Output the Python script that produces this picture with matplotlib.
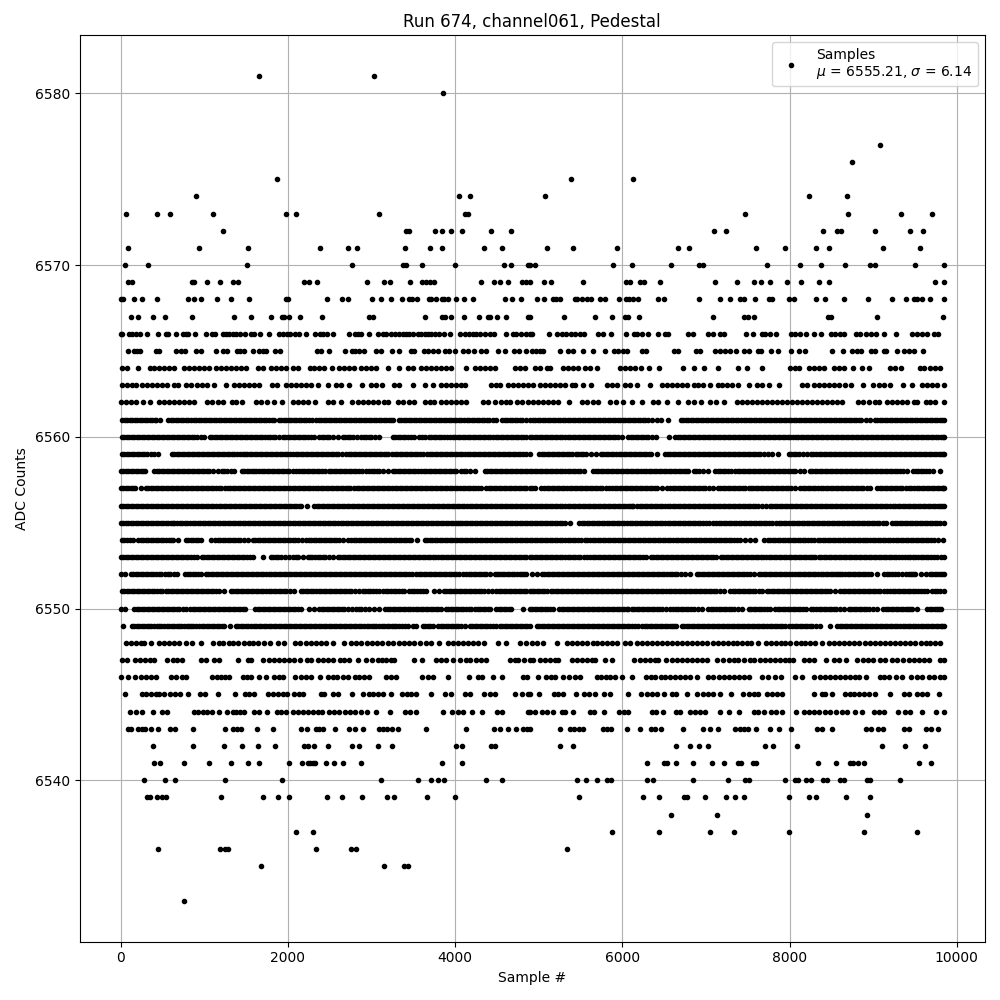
import matplotlib
matplotlib.use("Agg")
import matplotlib.pyplot as plt
import numpy as np

x_6533 = [763]
x_6535 = [1673, 3147, 3394, 3434]
x_6536 = [451, 1182, 1246, 1278, 2332, 2751, 2815, 5341]
x_6537 = [2092, 2296, 5880, 6443, 7054, 7330, 7989, 8887, 9522]
x_6538 = [6587, 7126, 8923]
x_6539 = [319, 351, 439, 495, 547, 1194, 1697, 1877, 2009, 2464, 2643, 2883, 3182, 3266, 3662, 3997, 5485, 6252, 6443, 6739, 6779, 6994, 7234, 7342, 7449, 7989, 8228, 8312, 8671, 8959]
x_6540 = [284, 535, 655, 1242, 1925, 3111, 3554, 3710, 3793, 3865, 4368, 4560, 5461, 5569, 5701, 5820, 5860, 6299, 6371, 6839, 7258, 7461, 7509, 7941, 8068, 8096, 8200, 8256, 8396, 8448, 8607, 8655, 8927, 8967, 9318]
x_6541 = [403, 475, 763, 1062, 1314, 1517, 1649, 2009, 2164, 2236, 2264, 2304, 2328, 2452, 2548, 2655, 2871, 3841, 4081, 6299, 6499, 6539, 6647, 6839, 7078, 7210, 7378, 7417, 7561, 7601, 8336, 8552, 8719, 8759, 8815, 8887, 9546, 9690]
x_6542 = [391, 870, 1230, 1445, 1637, 1841, 2196, 2236, 2308, 2476, 2763, 2847, 3075, 3242, 4009, 4081, 4424, 4472, 5257, 5413, 6647, 6815, 6922, 7030, 7701, 7797, 8084, 9103, 9378, 9622]
x_6543 = [92, 120, 212, 252, 292, 367, 451, 587, 651, 870, 1242, 1346, 1386, 1434, 1625, 1817, 2152, 2224, 2336, 2376, 2424, 2560, 2727, 2799, 2895, 3095, 3135, 3182, 3242, 3314, 3650, 4129, 4464, 4536, 4632, 4728, 4812, 4860, 4894, 5257, 5373, 5421, 5477, 5533, 5772, 5820, 5860, 6060, 6216, 6347, 6395, 6459, 6731, 6970, 7054, 7138, 7350, 7402, 7449, 7497, 7593, 7765, 7869, 8012, 8324, 8388, 8504, 8919, 8975, 9055, 9119, 9366, 9430, 9630, 9686, 9773]
x_6544 = [116, 180, 252, 391, 499, 559, 882, 930, 986, 1038, 1098, 1170, 1266, 1338, 1378, 1426, 1477, 1597, 1657, 1745, 1865, 1917, 1977, 2064, 2116, 2184, 2236, 2296, 2356, 2408, 2496, 2556, 2615, 2679, 2739, 2799, 2879, 2943, 3051, 3226, 3406, 3462, 3534, 3853, 3961, 4033, 4093, 4197, 4320, 4500, 4564, 4871, 4894, 4954, 5034, 5094, 5174, 5273, 5313, 5413, 5613, 5661, 5784, 5964, 6020, 6064, 6351, 6403, 6483, 6643, 6691, 6811, 6870, 6930, 6990, 7162, 7278, 7390, 7569, 7625, 7689, 7777, 7841, 7913, 8072, 8168, 8228, 8288, 8348, 8428, 8488, 8560, 8627, 8687, 8787, 8867, 9007, 9067, 9127, 9294, 9386, 9438, 9582, 9749, 9845]
x_6545 = [56, 252, 300, 359, 419, 459, 523, 587, 651, 715, 811, 950, 1014, 1162, 1362, 1485, 1537, 1597, 1757, 1817, 1877, 1937, 1985, 2076, 2136, 2184, 2396, 2436, 2536, 2595, 2771, 2903, 2967, 3015, 3075, 3143, 3234, 3366, 3422, 3474, 3534, 3714, 3881, 3953, 4113, 4181, 4341, 4412, 4472, 4716, 4804, 4871, 4894, 5006, 5181, 5233, 5293, 5445, 5541, 5605, 5673, 5780, 5852, 6072, 6220, 6291, 6351, 6411, 6499, 6591, 6643, 6771, 6898, 6962, 7030, 7082, 7170, 7298, 7441, 7509, 7577, 7617, 7729, 7789, 7849, 7909, 8288, 8388, 8428, 8508, 8667, 8719, 8775, 8827, 8887, 8947, 9027, 9206, 9366, 9426, 9526, 9586, 9646, 9785]
x_6546 = [0, 92, 176, 240, 300, 359, 427, 599, 659, 739, 779, 1098, 1146, 1198, 1246, 1294, 1461, 1513, 1561, 1657, 1737, 1837, 1889, 1945, 2088, 2156, 2216, 2276, 2384, 2476, 2536, 2583, 2655, 2715, 2799, 2855, 2915, 2967, 3175, 3234, 3294, 3602, 3674, 3734, 3913, 4165, 4273, 4324, 4456, 4564, 4812, 4860, 4994, 5086, 5142, 5193, 5293, 5365, 5433, 5493, 5693, 5740, 5804, 5852, 5912, 5992, 6112, 6283, 6339, 6391, 6459, 6511, 6571, 6631, 6691, 6751, 6811, 6890, 7022, 7082, 7150, 7210, 7270, 7330, 7390, 7449, 7509, 7669, 7737, 7829, 7897, 8064, 8148, 8296, 8360, 8428, 8488, 8548, 8608, 8667, 8727, 8787, 8827, 8915, 9087, 9135, 9190, 9278, 9346, 9458, 9518, 9586, 9665, 9733, 9797, 9845]
x_6547 = [20, 80, 172, 228, 292, 347, 399, 559, 627, 679, 731, 958, 1018, 1118, 1170, 1398, 1517, 1561, 1697, 1777, 1837, 1897, 1957, 2017, 2076, 2144, 2224, 2276, 2356, 2416, 2476, 2544, 2623, 2675, 2727, 2843, 2935, 3003, 3075, 3127, 3175, 3234, 3274, 3514, 3606, 3773, 3833, 3893, 3973, 4053, 4125, 4181, 4245, 4312, 4364, 4652, 4712, 4752, 4820, 4894, 4934, 5014, 5074, 5134, 5193, 5233, 5393, 5453, 5513, 5573, 5633, 5673, 5792, 5872, 6140, 6212, 6272, 6331, 6391, 6431, 6523, 6591, 6651, 6711, 6771, 6831, 6890, 6950, 7010, 7130, 7202, 7270, 7330, 7378, 7457, 7521, 7569, 7641, 7709, 7769, 7829, 7889, 7949, 7989, 8040, 8168, 8228, 8288, 8440, 8536, 8588, 8675, 8807, 8879, 8935, 8999, 9079, 9146, 9226, 9286, 9358, 9426, 9486, 9546, 9606, 9665, 9797, 9845]
x_6548 = [60, 120, 180, 240, 280, 359, 459, 519, 579, 639, 699, 787, 858, 958, 1106, 1170, 1226, 1290, 1346, 1409, 1477, 1537, 1577, 1645, 1717, 1785, 1885, 1949, 2088, 2148, 2216, 2276, 2336, 2396, 2456, 2536, 2671, 2755, 2815, 2875, 2943, 3007, 3067, 3123, 3194, 3254, 3326, 3394, 3454, 3514, 3574, 3654, 3714, 3805, 3913, 3973, 4033, 4093, 4153, 4213, 4273, 4341, 4512, 4612, 4780, 4852, 4914, 4974, 5054, 5213, 5341, 5393, 5453, 5513, 5581, 5645, 5693, 5752, 5812, 5872, 5940, 6032, 6092, 6172, 6232, 6291, 6351, 6411, 6471, 6531, 6591, 6651, 6711, 6771, 6831, 6890, 6950, 7010, 7082, 7138, 7202, 7262, 7322, 7370, 7429, 7489, 7537, 7625, 7721, 7777, 7841, 7897, 7949, 8000, 8080, 8136, 8188, 8248, 8308, 8388, 8476, 8528, 8588, 8647, 8707, 8767, 8827, 8907, 8967, 9027, 9087, 9146, 9206, 9266, 9326, 9386, 9446, 9506, 9566, 9626, 9685, 9745, 9797]
x_6549 = [32, 132, 190, 250, 312, 368, 430, 488, 552, 610, 668, 725, 790, 845, 898, 938, 1000, 1060, 1120, 1180, 1238, 1306, 1378, 1438, 1497, 1560, 1618, 1680, 1740, 1800, 1858, 1920, 1980, 2040, 2098, 2160, 2220, 2280, 2338, 2400, 2460, 2520, 2578, 2640, 2700, 2760, 2818, 2880, 2940, 3000, 3058, 3120, 3180, 3240, 3298, 3360, 3434, 3500, 3530, 3614, 3675, 3733, 3793, 3855, 3915, 3975, 4035, 4113, 4173, 4235, 4295, 4355, 4415, 4492, 4532, 4595, 4655, 4715, 4775, 4835, 4892, 4974, 5035, 5095, 5155, 5215, 5275, 5335, 5395, 5455, 5515, 5575, 5635, 5695, 5755, 5815, 5875, 5935, 5995, 6055, 6115, 6192, 6232, 6295, 6355, 6415, 6475, 6535, 6595, 6643, 6711, 6770, 6830, 6890, 6950, 7010, 7070, 7130, 7190, 7250, 7310, 7370, 7430, 7490, 7550, 7610, 7670, 7730, 7790, 7850, 7910, 7989, 8028, 8090, 8150, 8210, 8270, 8368, 8480, 8568, 8628, 8688, 8748, 8808, 8868, 8928, 8988, 9048, 9108, 9168, 9228, 9288, 9358, 9386, 9446, 9506, 9566, 9626, 9686, 9746, 9806, 9845]
x_6550 = [0, 48, 160, 222, 282, 340, 400, 462, 520, 580, 640, 700, 779, 831, 892, 950, 1012, 1070, 1132, 1190, 1250, 1310, 1370, 1430, 1485, 1609, 1670, 1730, 1790, 1850, 1910, 1970, 2030, 2090, 2156, 2256, 2316, 2376, 2436, 2496, 2556, 2616, 2676, 2767, 2815, 2875, 2975, 3035, 3095, 3166, 3226, 3286, 3346, 3406, 3466, 3526, 3586, 3646, 3706, 3766, 3833, 3885, 3945, 4005, 4065, 4125, 4193, 4241, 4301, 4361, 4420, 4492, 4552, 4612, 4672, 4812, 4894, 4954, 5014, 5074, 5134, 5174, 5245, 5305, 5365, 5425, 5485, 5545, 5605, 5665, 5725, 5785, 5845, 5905, 5965, 6025, 6072, 6112, 6172, 6232, 6292, 6352, 6412, 6472, 6571, 6611, 6671, 6731, 6791, 6851, 6950, 7030, 7090, 7150, 7210, 7270, 7330, 7430, 7509, 7569, 7629, 7689, 7769, 7829, 7889, 7949, 8009, 8069, 8129, 8200, 8256, 8316, 8376, 8436, 8496, 8556, 8647, 8707, 8767, 8827, 8887, 8947, 9047, 9119, 9179, 9239, 9299, 9359, 9419, 9466, 9518, 9646, 9706, 9766, 9813]
x_6551 = [12, 72, 132, 192, 252, 312, 372, 432, 499, 539, 599, 659, 719, 779, 839, 899, 959, 1019, 1079, 1139, 1238, 1318, 1378, 1438, 1498, 1558, 1618, 1678, 1738, 1798, 1858, 1918, 1978, 2076, 2156, 2216, 2276, 2336, 2396, 2456, 2516, 2576, 2636, 2696, 2756, 2847, 2895, 2955, 3015, 3095, 3143, 3203, 3263, 3323, 3394, 3454, 3514, 3574, 3654, 3753, 3805, 3861, 3921, 3981, 4041, 4101, 4161, 4221, 4281, 4341, 4444, 4492, 4552, 4612, 4672, 4732, 4792, 4852, 4892, 4914, 4974, 5034, 5094, 5142, 5202, 5262, 5322, 5382, 5442, 5502, 5562, 5622, 5682, 5742, 5802, 5862, 5922, 5982, 6042, 6102, 6162, 6222, 6282, 6342, 6402, 6462, 6522, 6582, 6642, 6702, 6762, 6822, 6882, 6942, 7002, 7062, 7122, 7210, 7290, 7350, 7410, 7470, 7530, 7590, 7669, 7729, 7789, 7849, 7909, 7969, 8029, 8089, 8149, 8209, 8269, 8329, 8389, 8449, 8548, 8607, 8667, 8727, 8787, 8847, 8907, 8967, 9027, 9087, 9166, 9206, 9266, 9326, 9386, 9446, 9506, 9566, 9646, 9705, 9765, 9845]
x_6552 = [0, 52, 120, 180, 240, 300, 360, 420, 487, 531, 591, 679, 771, 831, 891, 958, 1018, 1078, 1138, 1198, 1258, 1318, 1378, 1438, 1498, 1558, 1618, 1678, 1738, 1798, 1858, 1918, 1978, 2038, 2098, 2158, 2218, 2278, 2338, 2398, 2458, 2518, 2578, 2638, 2698, 2758, 2818, 2878, 2938, 2998, 3058, 3118, 3178, 3238, 3298, 3358, 3418, 3482, 3534, 3594, 3654, 3714, 3774, 3834, 3894, 3954, 4014, 4093, 4133, 4193, 4253, 4313, 4373, 4472, 4500, 4560, 4620, 4680, 4740, 4800, 4852, 4914, 4982, 5034, 5094, 5154, 5214, 5274, 5334, 5394, 5454, 5514, 5574, 5634, 5694, 5754, 5814, 5874, 5934, 5994, 6054, 6114, 6174, 6234, 6294, 6354, 6414, 6474, 6534, 6594, 6654, 6751, 6811, 6890, 6950, 7010, 7070, 7130, 7190, 7250, 7310, 7370, 7430, 7490, 7577, 7629, 7689, 7749, 7809, 7869, 7929, 7989, 8068, 8100, 8160, 8220, 8280, 8340, 8400, 8460, 8520, 8580, 8627, 8667, 8727, 8787, 8847, 8907, 8975, 9047, 9135, 9195, 9255, 9346, 9398, 9458, 9506, 9566, 9626, 9677, 9737, 9797, 9845]
x_6553 = [0, 60, 120, 180, 240, 300, 360, 420, 480, 540, 600, 660, 720, 780, 840, 918, 970, 1030, 1090, 1150, 1210, 1270, 1330, 1390, 1450, 1510, 1585, 1697, 1797, 1857, 1917, 2009, 2064, 2124, 2236, 2264, 2324, 2384, 2444, 2544, 2595, 2655, 2715, 2775, 2835, 2895, 2955, 3015, 3075, 3135, 3195, 3255, 3315, 3375, 3435, 3495, 3555, 3615, 3675, 3735, 3795, 3855, 3915, 3973, 4013, 4073, 4133, 4193, 4253, 4313, 4373, 4433, 4493, 4553, 4613, 4673, 4733, 4793, 4853, 4894, 4954, 5014, 5074, 5134, 5194, 5254, 5314, 5374, 5434, 5494, 5581, 5613, 5673, 5733, 5793, 5853, 5913, 5973, 6033, 6093, 6153, 6213, 6283, 6339, 6399, 6459, 6519, 6579, 6639, 6699, 6759, 6819, 6879, 6939, 6999, 7059, 7122, 7178, 7238, 7298, 7358, 7418, 7478, 7538, 7598, 7658, 7718, 7778, 7838, 7898, 7958, 8018, 8078, 8138, 8198, 8258, 8308, 8348, 8408, 8468, 8528, 8588, 8648, 8708, 8768, 8828, 8888, 8948, 9008, 9068, 9128, 9188, 9248, 9308, 9386, 9446, 9506, 9566, 9626, 9686, 9765, 9813, 9845]
x_6554 = [12, 72, 152, 212, 272, 332, 392, 452, 512, 572, 631, 687, 779, 839, 899, 959, 1078, 1130, 1190, 1250, 1310, 1370, 1430, 1517, 1577, 1637, 1697, 1757, 1817, 1877, 1937, 1997, 2057, 2117, 2216, 2248, 2308, 2368, 2428, 2488, 2548, 2608, 2715, 2755, 2815, 2875, 2935, 2995, 3055, 3115, 3175, 3235, 3295, 3355, 3415, 3474, 3542, 3634, 3694, 3754, 3814, 3874, 3934, 3994, 4054, 4114, 4174, 4234, 4294, 4354, 4414, 4474, 4534, 4594, 4654, 4714, 4774, 4834, 4892, 4954, 5014, 5074, 5134, 5194, 5254, 5314, 5374, 5434, 5501, 5553, 5613, 5673, 5733, 5793, 5853, 5913, 5973, 6033, 6093, 6153, 6213, 6273, 6333, 6393, 6453, 6513, 6571, 6611, 6671, 6731, 6791, 6851, 6911, 6971, 7031, 7091, 7151, 7211, 7271, 7331, 7410, 7469, 7529, 7589, 7689, 7737, 7797, 7857, 7917, 7977, 8037, 8097, 8157, 8217, 8296, 8336, 8396, 8456, 8516, 8576, 8636, 8696, 8756, 8816, 8876, 8927, 8967, 9027, 9087, 9147, 9207, 9267, 9327, 9387, 9447, 9507, 9567, 9627, 9687, 9773, 9833]
x_6555 = [0, 60, 120, 180, 240, 300, 360, 420, 480, 540, 600, 639, 679, 739, 799, 859, 919, 979, 1039, 1099, 1159, 1219, 1279, 1339, 1399, 1459, 1519, 1579, 1639, 1699, 1759, 1819, 1879, 1939, 1999, 2059, 2119, 2179, 2239, 2299, 2359, 2419, 2479, 2539, 2599, 2659, 2719, 2779, 2839, 2899, 2959, 3019, 3079, 3139, 3199, 3259, 3319, 3379, 3439, 3499, 3559, 3619, 3679, 3739, 3799, 3859, 3919, 3979, 4039, 4085, 4113, 4173, 4233, 4293, 4353, 4413, 4473, 4533, 4593, 4653, 4713, 4773, 4833, 4892, 4954, 5014, 5074, 5134, 5194, 5254, 5313, 5377, 5485, 5545, 5605, 5665, 5725, 5785, 5845, 5905, 5965, 6020, 6060, 6120, 6180, 6240, 6300, 6360, 6420, 6480, 6540, 6600, 6660, 6720, 6780, 6840, 6900, 6960, 7042, 7090, 7150, 7210, 7270, 7330, 7390, 7450, 7510, 7570, 7630, 7690, 7750, 7841, 7873, 7933, 7993, 8053, 8113, 8173, 8233, 8293, 8353, 8413, 8473, 8533, 8593, 8653, 8713, 8773, 8833, 8893, 8953, 9013, 9073, 9158, 9226, 9286, 9346, 9406, 9466, 9526, 9586, 9646, 9706, 9766, 9845]
x_6556 = [0, 60, 120, 180, 240, 300, 360, 420, 480, 540, 600, 660, 720, 780, 840, 900, 960, 1020, 1080, 1140, 1200, 1260, 1320, 1380, 1440, 1500, 1560, 1620, 1680, 1740, 1800, 1860, 1920, 1980, 2040, 2100, 2156, 2228, 2312, 2372, 2432, 2492, 2552, 2612, 2672, 2732, 2792, 2852, 2912, 2972, 3032, 3092, 3152, 3212, 3272, 3332, 3392, 3452, 3512, 3572, 3632, 3692, 3752, 3812, 3872, 3932, 3992, 4052, 4112, 4172, 4232, 4292, 4352, 4412, 4472, 4532, 4592, 4652, 4712, 4772, 4832, 4892, 4954, 5014, 5074, 5134, 5194, 5254, 5314, 5374, 5434, 5494, 5554, 5614, 5674, 5734, 5794, 5854, 5914, 5974, 6034, 6094, 6132, 6180, 6240, 6300, 6360, 6420, 6480, 6540, 6600, 6660, 6720, 6780, 6840, 6900, 6960, 7020, 7080, 7140, 7200, 7260, 7320, 7380, 7440, 7500, 7560, 7620, 7721, 7761, 7821, 7881, 7941, 8001, 8061, 8121, 8181, 8241, 8301, 8361, 8421, 8481, 8541, 8601, 8661, 8721, 8781, 8841, 8901, 8961, 9021, 9081, 9141, 9201, 9261, 9321, 9381, 9441, 9501, 9561, 9621, 9681, 9741, 9801, 9845]
x_6557 = [0, 60, 120, 172, 240, 300, 360, 420, 480, 540, 600, 660, 720, 780, 840, 900, 960, 1020, 1080, 1140, 1198, 1250, 1310, 1370, 1430, 1490, 1550, 1610, 1670, 1730, 1790, 1850, 1910, 1970, 2030, 2090, 2150, 2210, 2270, 2330, 2390, 2450, 2510, 2570, 2630, 2690, 2743, 2795, 2855, 2915, 2975, 3035, 3095, 3155, 3215, 3275, 3335, 3395, 3455, 3515, 3575, 3635, 3695, 3755, 3815, 3875, 3935, 3995, 4025, 4061, 4121, 4181, 4241, 4312, 4372, 4432, 4492, 4552, 4612, 4672, 4732, 4792, 4852, 4892, 4954, 5060, 5098, 5158, 5218, 5278, 5338, 5398, 5458, 5518, 5578, 5638, 5698, 5758, 5840, 5880, 5940, 6000, 6060, 6120, 6180, 6240, 6300, 6360, 6420, 6531, 6571, 6631, 6691, 6751, 6811, 6871, 6931, 6991, 7090, 7138, 7198, 7258, 7318, 7378, 7438, 7509, 7537, 7597, 7657, 7717, 7777, 7837, 7897, 7957, 8017, 8120, 8160, 8220, 8280, 8340, 8400, 8460, 8520, 8580, 8640, 8700, 8760, 8820, 8880, 8959, 9047, 9107, 9167, 9227, 9287, 9350, 9398, 9458, 9518, 9578, 9638, 9698, 9758, 9818, 9845]
x_6558 = [0, 60, 120, 180, 240, 292, 399, 459, 519, 579, 639, 699, 759, 819, 879, 939, 999, 1059, 1158, 1210, 1270, 1358, 1445, 1505, 1565, 1617, 1657, 1717, 1777, 1837, 1897, 1957, 2017, 2096, 2136, 2196, 2256, 2316, 2376, 2448, 2488, 2548, 2608, 2668, 2728, 2788, 2848, 2935, 2975, 3035, 3095, 3194, 3254, 3314, 3374, 3434, 3494, 3554, 3594, 3654, 3714, 3774, 3834, 3894, 3954, 4013, 4073, 4133, 4233, 4352, 4412, 4472, 4532, 4592, 4652, 4712, 4772, 4832, 4892, 4954, 5014, 5074, 5134, 5194, 5254, 5314, 5374, 5434, 5493, 5545, 5653, 5713, 5773, 5833, 5893, 5953, 6013, 6073, 6133, 6193, 6253, 6313, 6373, 6433, 6493, 6553, 6613, 6673, 6733, 6791, 6851, 6911, 7030, 7110, 7170, 7230, 7298, 7350, 7410, 7470, 7530, 7590, 7650, 7710, 7770, 7830, 7890, 7950, 8010, 8070, 8168, 8240, 8300, 8360, 8420, 8480, 8540, 8600, 8660, 8720, 8780, 8840, 8900, 8960, 9020, 9080, 9140, 9200, 9260, 9320, 9406, 9478, 9538, 9598, 9665, 9717, 9805]
x_6559 = [12, 72, 132, 192, 252, 312, 399, 451, 611, 671, 731, 791, 851, 911, 971, 1031, 1091, 1151, 1211, 1271, 1331, 1391, 1457, 1485, 1545, 1605, 1665, 1725, 1785, 1845, 1905, 1965, 2025, 2064, 2124, 2184, 2244, 2304, 2364, 2424, 2484, 2544, 2604, 2695, 2727, 2787, 2847, 2907, 2967, 3027, 3087, 3147, 3194, 3246, 3306, 3366, 3426, 3486, 3546, 3614, 3666, 3726, 3786, 3846, 3906, 3966, 4026, 4086, 4153, 4181, 4241, 4301, 4361, 4421, 4481, 4541, 4601, 4661, 4721, 4781, 4852, 4894, 5000, 5034, 5094, 5154, 5214, 5274, 5334, 5393, 5445, 5505, 5565, 5685, 5744, 5804, 5864, 5924, 5984, 6044, 6104, 6164, 6224, 6284, 6339, 6419, 6511, 6571, 6631, 6691, 6751, 6811, 6871, 6931, 6991, 7051, 7111, 7171, 7231, 7291, 7351, 7411, 7471, 7531, 7591, 7651, 7737, 7785, 7857, 7989, 8049, 8109, 8208, 8256, 8316, 8376, 8436, 8496, 8556, 8616, 8676, 8736, 8796, 8856, 8916, 8976, 9036, 9096, 9156, 9216, 9276, 9336, 9396, 9456, 9516, 9576, 9636, 9696, 9756, 9816, 9845]
x_6560 = [12, 72, 132, 192, 252, 312, 372, 432, 492, 552, 612, 672, 732, 792, 852, 912, 998, 1066, 1126, 1186, 1246, 1306, 1366, 1426, 1486, 1546, 1606, 1666, 1726, 1786, 1846, 1937, 1997, 2057, 2117, 2177, 2237, 2316, 2376, 2436, 2496, 2595, 2655, 2715, 2775, 2875, 2935, 2995, 3095, 3254, 3314, 3374, 3434, 3514, 3566, 3634, 3686, 3746, 3806, 3866, 3941, 3973, 4033, 4093, 4153, 4213, 4273, 4333, 4393, 4453, 4513, 4573, 4633, 4693, 4753, 4813, 4892, 4954, 5014, 5074, 5134, 5194, 5254, 5314, 5374, 5434, 5494, 5554, 5614, 5674, 5734, 5794, 5854, 5914, 5992, 6072, 6132, 6192, 6252, 6312, 6403, 6563, 6631, 6691, 6751, 6811, 6871, 6931, 6991, 7051, 7111, 7171, 7231, 7291, 7351, 7411, 7471, 7531, 7591, 7651, 7711, 7771, 7831, 7891, 7951, 8011, 8071, 8131, 8191, 8251, 8311, 8371, 8431, 8491, 8551, 8611, 8671, 8731, 8791, 8851, 8911, 8971, 9031, 9091, 9151, 9211, 9271, 9331, 9391, 9451, 9511, 9571, 9631, 9691, 9751, 9811, 9845]
x_6561 = [20, 80, 140, 200, 260, 320, 380, 427, 471, 571, 631, 691, 751, 811, 871, 931, 991, 1051, 1111, 1171, 1231, 1291, 1351, 1411, 1471, 1531, 1591, 1651, 1711, 1771, 1837, 1889, 1949, 2009, 2069, 2129, 2189, 2249, 2336, 2368, 2428, 2488, 2548, 2608, 2668, 2728, 2788, 2848, 2908, 2968, 3028, 3088, 3148, 3208, 3254, 3326, 3386, 3446, 3506, 3566, 3626, 3686, 3746, 3806, 3866, 3926, 3986, 4046, 4106, 4166, 4226, 4286, 4346, 4406, 4492, 4564, 4624, 4684, 4744, 4804, 4892, 4926, 4986, 5046, 5106, 5166, 5226, 5286, 5346, 5406, 5466, 5526, 5586, 5646, 5706, 5766, 5826, 5886, 5946, 6006, 6066, 6126, 6186, 6246, 6306, 6411, 6463, 6551, 6699, 6759, 6819, 6879, 6939, 6999, 7059, 7119, 7179, 7239, 7299, 7359, 7419, 7479, 7539, 7599, 7659, 7719, 7779, 7839, 7899, 7959, 8019, 8079, 8139, 8199, 8259, 8319, 8379, 8439, 8499, 8559, 8619, 8679, 8739, 8799, 8859, 8967, 9019, 9079, 9139, 9199, 9259, 9319, 9379, 9439, 9499, 9559, 9619, 9679, 9739, 9799, 9845]
x_6562 = [0, 60, 120, 180, 268, 347, 459, 519, 579, 639, 699, 759, 819, 878, 1038, 1098, 1158, 1218, 1330, 1378, 1445, 1617, 1677, 1745, 1837, 1929, 2056, 2116, 2176, 2240, 2320, 2476, 2536, 2635, 2767, 2835, 2895, 2955, 3015, 3075, 3155, 3194, 3314, 3374, 3454, 3514, 3634, 3694, 3753, 3833, 3893, 3953, 4013, 4073, 4125, 4332, 4392, 4472, 4552, 4612, 4656, 4740, 4800, 4871, 4934, 4994, 5054, 5114, 5174, 5233, 5361, 5513, 5573, 5653, 5712, 5852, 5924, 6012, 6112, 6232, 6371, 6431, 6531, 6671, 6791, 6851, 6938, 7050, 7122, 7210, 7370, 7429, 7489, 7549, 7609, 7669, 7729, 7789, 7849, 7909, 7969, 8028, 8088, 8148, 8208, 8268, 8328, 8388, 8448, 8508, 8568, 8627, 8815, 8879, 8951, 9027, 9067, 9166, 9226, 9286, 9346, 9406, 9486, 9526, 9626, 9685, 9745, 9845]
x_6563 = [20, 80, 140, 188, 260, 319, 379, 439, 499, 559, 639, 687, 779, 838, 918, 978, 1038, 1118, 1262, 1358, 1417, 1477, 1537, 1597, 1657, 1809, 1865, 1977, 2036, 2096, 2156, 2216, 2276, 2356, 2476, 2575, 2635, 2727, 2887, 2995, 3055, 3127, 3274, 3334, 3494, 3638, 3741, 3833, 3893, 3953, 4013, 4073, 4113, 4432, 4492, 4540, 4632, 4692, 4752, 4812, 4871, 4926, 5014, 5074, 5134, 5193, 5253, 5313, 5393, 5433, 5525, 5621, 5812, 5872, 5932, 6032, 6092, 6180, 6335, 6471, 6531, 6591, 6651, 6711, 6771, 6851, 6910, 6962, 7054, 7138, 7190, 7250, 7310, 7378, 7509, 7609, 7669, 7749, 7869, 8148, 8208, 8288, 8348, 8408, 8468, 8528, 8588, 8667, 8731, 8875, 8999, 9067, 9127, 9206, 9354, 9466, 9586, 9646, 9705, 9765, 9845]
x_6564 = [12, 80, 204, 347, 399, 459, 519, 579, 639, 759, 819, 879, 938, 998, 1058, 1138, 1198, 1258, 1318, 1378, 1438, 1497, 1637, 1697, 1797, 1857, 1917, 1977, 2056, 2116, 2264, 2316, 2376, 2436, 2528, 2615, 2675, 2735, 2795, 2875, 2935, 2995, 3055, 3194, 3334, 3434, 3494, 3594, 3654, 3714, 3773, 3833, 3893, 3953, 4133, 4233, 4293, 4352, 4412, 4472, 4712, 4772, 4832, 4954, 5014, 5094, 5134, 5293, 5353, 5413, 5473, 5553, 5613, 5693, 5972, 6032, 6092, 6152, 6224, 6323, 6443, 6731, 6859, 6982, 7138, 7378, 7489, 7665, 8008, 8068, 8108, 8228, 8288, 8348, 8408, 8528, 8588, 8647, 8755, 8867, 8947, 9206, 9266, 9334, 9558, 9606, 9685, 9745, 9805]
x_6565 = [92, 164, 200, 232, 427, 459, 667, 719, 771, 906, 958, 1134, 1218, 1266, 1386, 1426, 1477, 1577, 1649, 1697, 1737, 1841, 1905, 2344, 2396, 2488, 2679, 2763, 2807, 2855, 2907, 3055, 3115, 3242, 3334, 3474, 3514, 3626, 3674, 3733, 3793, 3873, 3925, 3997, 4093, 4153, 4229, 4312, 4372, 4516, 4592, 4704, 4760, 4852, 4914, 4966, 5014, 5054, 5253, 5345, 5405, 5525, 5653, 5796, 5900, 5952, 6004, 6060, 6232, 6284, 6619, 6671, 6878, 6930, 7110, 7170, 7230, 7282, 7354, 7449, 7509, 7621, 7657, 7773, 7857, 8012, 8108, 8188, 8508, 8635, 8747, 8807, 8859, 8975, 9027, 9127, 9159, 9286, 9366, 9426, 9486, 9598]
x_6566 = [0, 20, 100, 140, 188, 228, 319, 451, 539, 571, 659, 747, 779, 811, 890, 1018, 1090, 1130, 1218, 1258, 1298, 1338, 1378, 1426, 1489, 1557, 1597, 1661, 1773, 1889, 1945, 1985, 2025, 2088, 2136, 2220, 2320, 2384, 2424, 2464, 2536, 2727, 2799, 2839, 2871, 2967, 3075, 3135, 3175, 3238, 3278, 3334, 3374, 3414, 3454, 3494, 3554, 3594, 3634, 3674, 3714, 3765, 3805, 3869, 3933, 4057, 4113, 4165, 4213, 4253, 4301, 4352, 4412, 4464, 4608, 4692, 4732, 4792, 4844, 4892, 4914, 5126, 5222, 5274, 5325, 5381, 5433, 5493, 5541, 5712, 5772, 5860, 6048, 6140, 6180, 6232, 6311, 6431, 6511, 6543, 6791, 6843, 7022, 7082, 7170, 7218, 7473, 7561, 7669, 7709, 7761, 7833, 8016, 8068, 8120, 8192, 8288, 8376, 8496, 8548, 8600, 8647, 8799, 8847, 8919, 8975, 9031, 9127, 9270, 9466, 9518, 9586, 9638, 9733, 9773]
x_6567 = [120, 204, 391, 535, 858, 1350, 1553, 1797, 1925, 1957, 2009, 2140, 2404, 2967, 3015, 3638, 3841, 3873, 3953, 4109, 4281, 4388, 4420, 4504, 4608, 4871, 4894, 5305, 5677, 5880, 6032, 6072, 6204, 7090, 7449, 7497, 7569, 8456, 8496, 9043, 9833]
x_6568 = [0, 30, 164, 260, 435, 811, 882, 966, 1150, 1314, 1529, 1977, 2001, 2464, 2643, 2715, 3003, 3111, 3230, 3362, 3454, 3486, 3542, 3686, 3714, 3769, 3841, 3869, 3913, 4009, 4105, 4213, 4596, 4680, 4788, 4982, 5066, 5174, 5206, 5258, 5437, 5461, 5521, 5581, 5621, 5736, 5788, 5964, 6048, 6084, 6132, 6192, 6431, 6503, 6922, 7162, 7282, 7413, 7449, 7581, 7749, 7785, 7989, 8048, 8312, 8420, 8647, 8935, 9222, 9394, 9486, 9518, 9582, 9677, 9845]
x_6569 = [92, 132, 850, 882, 1034, 1182, 1338, 1402, 2188, 2248, 2344, 2943, 3147, 3222, 3458, 3602, 3654, 3694, 3742, 4312, 4464, 4536, 4632, 4800, 4852, 4894, 5066, 5142, 5533, 6040, 6092, 6212, 6264, 6455, 7110, 7366, 7569, 7653, 7761, 7969, 8132, 8348, 8468, 9737, 9845]
x_6570 = [56, 331, 1505, 2763, 3374, 3414, 3602, 3997, 4584, 4672, 4871, 4894, 4958, 5892, 6120, 6587, 6922, 6970, 7725, 8120, 8372, 8663, 8959, 9023, 9498, 9845]
x_6571 = [92, 942, 1517, 2380, 2715, 2823, 3398, 3698, 3841, 4345, 4560, 5102, 5413, 5940, 6671, 6803, 7593, 7941, 8312, 8468, 9115, 9558]
x_6572 = [1218, 3414, 3454, 3757, 3841, 3949, 4081, 4428, 4668, 7102, 7234, 8396, 8564, 8616, 9019, 9438, 9594]
x_6573 = [68, 439, 595, 1110, 1973, 2092, 3087, 4115, 4150, 7461, 8695, 9330, 9701]
x_6574 = [906, 4045, 4177, 5078, 8228, 8683]
x_6575 = [1865, 5389, 6132]
x_6576 = [8743]
x_6577 = [9079]
x_6580 = [3853]
x_6581 = [1649, 3027]

# further samples read inside the solid strips of the densest rows
more_6552 = [150, 210, 270, 330, 390, 455, 561, 635, 801, 861, 925, 1048, 1108, 1168, 1228, 1288, 1348, 1408, 1468, 1528, 1588, 1648, 1708, 1768, 1828, 1888, 1948, 2008, 2068, 2128, 2188, 2248, 2308, 2368, 2428, 2488, 2548, 2608, 2668, 2728, 2788, 2848, 2908, 2968, 3028, 3088, 3148, 3208, 3268, 3328, 3388, 3450, 3564, 3624, 3684, 3744, 3804, 3864, 3924, 3984, 4050, 4163, 4223, 4283, 4343, 4420, 4530, 4590, 4650, 4710, 4770, 4826, 5064, 5124, 5184, 5244, 5304, 5364, 5424, 5484, 5544, 5604, 5664, 5724, 5784, 5844, 5904, 5964, 6024, 6084, 6144, 6204, 6264, 6324, 6384, 6444, 6504, 6564, 6624, 6700, 6920, 6980, 7040, 7100, 7160, 7220, 7280, 7340, 7400, 7460, 7530, 7659, 7719, 7779, 7839, 7899, 7959, 8030, 8130, 8190, 8250, 8310, 8370, 8430, 8490, 8550, 8605, 8697, 8757, 8817, 8877, 8940, 9165, 9225, 9300, 9428, 9480, 9707, 9767, 9825]
more_6553 = [30, 90, 150, 210, 270, 330, 390, 450, 510, 570, 630, 690, 750, 810, 880, 1000, 1060, 1120, 1180, 1240, 1300, 1360, 1420, 1480, 1550, 1827, 1887, 1965, 2094, 2180, 2294, 2354, 2414, 2490, 2625, 2685, 2745, 2805, 2865, 2925, 2985, 3045, 3105, 3165, 3225, 3285, 3345, 3405, 3465, 3525, 3585, 3645, 3705, 3765, 3825, 3885, 3945, 4043, 4103, 4163, 4223, 4283, 4343, 4403, 4463, 4523, 4583, 4643, 4703, 4763, 4823, 4924, 4984, 5044, 5104, 5164, 5224, 5284, 5344, 5404, 5464, 5540, 5643, 5703, 5763, 5823, 5883, 5943, 6003, 6063, 6123, 6183, 6250, 6369, 6429, 6489, 6549, 6609, 6669, 6729, 6789, 6849, 6909, 6969, 7029, 7090, 7208, 7268, 7328, 7388, 7448, 7508, 7568, 7628, 7688, 7748, 7808, 7868, 7928, 7988, 8048, 8108, 8168, 8228, 8280, 8378, 8438, 8498, 8558, 8618, 8678, 8738, 8798, 8858, 8918, 8978, 9038, 9098, 9158, 9218, 9278, 9345, 9416, 9476, 9536, 9596, 9656, 9725]
more_6554 = [42, 110, 242, 302, 362, 422, 482, 542, 600, 809, 869, 930, 1160, 1220, 1280, 1340, 1400, 1480, 1607, 1667, 1727, 1787, 1847, 1907, 1967, 2027, 2087, 2165, 2278, 2338, 2398, 2458, 2518, 2578, 2660, 2785, 2845, 2905, 2965, 3025, 3085, 3145, 3205, 3265, 3325, 3385, 3445, 3664, 3724, 3784, 3844, 3904, 3964, 4024, 4084, 4144, 4204, 4264, 4324, 4384, 4444, 4504, 4564, 4624, 4684, 4744, 4804, 4864, 4924, 4984, 5044, 5104, 5164, 5224, 5284, 5344, 5404, 5470, 5583, 5643, 5703, 5763, 5823, 5883, 5943, 6003, 6063, 6123, 6183, 6243, 6303, 6363, 6423, 6483, 6543, 6641, 6701, 6761, 6821, 6881, 6941, 7001, 7061, 7121, 7181, 7241, 7301, 7370, 7767, 7827, 7887, 7947, 8007, 8067, 8127, 8187, 8256, 8366, 8426, 8486, 8546, 8606, 8666, 8726, 8786, 8846, 8900, 8997, 9057, 9117, 9177, 9237, 9297, 9357, 9417, 9477, 9537, 9597, 9657, 9730]
more_6555 = [30, 90, 150, 210, 270, 330, 390, 450, 510, 570, 620, 709, 769, 829, 889, 949, 1009, 1069, 1129, 1189, 1249, 1309, 1369, 1429, 1489, 1549, 1609, 1669, 1729, 1789, 1849, 1909, 1969, 2029, 2089, 2149, 2209, 2269, 2329, 2389, 2449, 2509, 2569, 2629, 2689, 2749, 2809, 2869, 2929, 2989, 3049, 3109, 3169, 3229, 3289, 3349, 3409, 3469, 3529, 3589, 3649, 3709, 3769, 3829, 3889, 3949, 4009, 4062, 4143, 4203, 4263, 4323, 4383, 4443, 4503, 4563, 4623, 4683, 4743, 4803, 4863, 4924, 4984, 5044, 5104, 5164, 5224, 5284, 5515, 5575, 5635, 5695, 5755, 5815, 5875, 5935, 5995, 6090, 6150, 6210, 6270, 6330, 6390, 6450, 6510, 6570, 6630, 6690, 6750, 6810, 6870, 6930, 7000, 7120, 7180, 7240, 7300, 7360, 7420, 7480, 7540, 7600, 7660, 7720, 7795, 7903, 7963, 8023, 8083, 8143, 8203, 8263, 8323, 8383, 8443, 8503, 8563, 8623, 8683, 8743, 8803, 8863, 8923, 8983, 9043, 9115, 9256, 9316, 9376, 9436, 9496, 9556, 9616, 9676, 9736, 9805]
more_6556 = [30, 90, 150, 210, 270, 330, 390, 450, 510, 570, 630, 690, 750, 810, 870, 930, 990, 1050, 1110, 1170, 1230, 1290, 1350, 1410, 1470, 1530, 1590, 1650, 1710, 1770, 1830, 1890, 1950, 2010, 2070, 2128, 2342, 2402, 2462, 2522, 2582, 2642, 2702, 2762, 2822, 2882, 2942, 3002, 3062, 3122, 3182, 3242, 3302, 3362, 3422, 3482, 3542, 3602, 3662, 3722, 3782, 3842, 3902, 3962, 4022, 4082, 4142, 4202, 4262, 4322, 4382, 4442, 4502, 4562, 4622, 4682, 4742, 4802, 4862, 4924, 4984, 5044, 5104, 5164, 5224, 5284, 5344, 5404, 5464, 5524, 5584, 5644, 5704, 5764, 5824, 5884, 5944, 6004, 6064, 6110, 6210, 6270, 6330, 6390, 6450, 6510, 6570, 6630, 6690, 6750, 6810, 6870, 6930, 6990, 7050, 7110, 7170, 7230, 7290, 7350, 7410, 7470, 7530, 7590, 7670, 7791, 7851, 7911, 7971, 8031, 8091, 8151, 8211, 8271, 8331, 8391, 8451, 8511, 8571, 8631, 8691, 8751, 8811, 8871, 8931, 8991, 9051, 9111, 9171, 9231, 9291, 9351, 9411, 9471, 9531, 9591, 9651, 9711, 9771, 9825]
more_6557 = [30, 90, 145, 330, 390, 450, 510, 570, 630, 690, 750, 810, 870, 930, 990, 1050, 1110, 1170, 1280, 1340, 1400, 1460, 1520, 1580, 1640, 1700, 1760, 1820, 1880, 1940, 2000, 2060, 2120, 2180, 2240, 2300, 2360, 2420, 2480, 2540, 2600, 2660, 2720, 2825, 2885, 2945, 3005, 3065, 3125, 3185, 3245, 3305, 3365, 3425, 3485, 3545, 3605, 3665, 3725, 3785, 3845, 3905, 3965, 4091, 4151, 4211, 4275, 4402, 4462, 4522, 4582, 4642, 4702, 4762, 4822, 4924, 5030, 5128, 5188, 5248, 5308, 5368, 5428, 5488, 5548, 5608, 5668, 5728, 5800, 5910, 5970, 6030, 6090, 6150, 6210, 6270, 6330, 6390, 6470, 6601, 6661, 6721, 6781, 6841, 6901, 6961, 7040, 7168, 7228, 7288, 7348, 7408, 7470, 7567, 7627, 7687, 7747, 7807, 7867, 7927, 7987, 8060, 8190, 8250, 8310, 8370, 8430, 8490, 8550, 8610, 8670, 8730, 8790, 8850, 8920, 9077, 9137, 9197, 9257, 9320, 9428, 9488, 9548, 9608, 9668, 9728, 9788, 9830]
more_6558 = [30, 90, 150, 210, 265, 429, 489, 549, 609, 669, 729, 789, 849, 909, 969, 1029, 1100, 1240, 1320, 1475, 1535, 1590, 1687, 1747, 1807, 1867, 1927, 1987, 2055, 2166, 2226, 2286, 2346, 2410, 2518, 2578, 2638, 2698, 2758, 2818, 2890, 3005, 3065, 3140, 3284, 3344, 3404, 3464, 3524, 3624, 3684, 3744, 3804, 3864, 3924, 3984, 4103, 4180, 4382, 4442, 4502, 4562, 4622, 4682, 4742, 4802, 4862, 4924, 4984, 5044, 5104, 5164, 5224, 5284, 5344, 5404, 5464, 5683, 5743, 5803, 5863, 5923, 5983, 6043, 6103, 6163, 6223, 6283, 6343, 6403, 6463, 6523, 6583, 6643, 6703, 6762, 6881, 6970, 7140, 7200, 7264, 7380, 7440, 7500, 7560, 7620, 7680, 7740, 7800, 7860, 7920, 7980, 8040, 8120, 8270, 8330, 8390, 8450, 8510, 8570, 8630, 8690, 8750, 8810, 8870, 8930, 8990, 9050, 9110, 9170, 9230, 9290, 9360, 9508, 9568, 9630]
more_6559 = [42, 102, 162, 222, 282, 360, 641, 701, 761, 821, 881, 941, 1001, 1061, 1121, 1181, 1241, 1301, 1361, 1425, 1515, 1575, 1635, 1695, 1755, 1815, 1875, 1935, 1995, 2094, 2154, 2214, 2274, 2334, 2394, 2454, 2514, 2574, 2650, 2757, 2817, 2877, 2937, 2997, 3057, 3117, 3170, 3276, 3336, 3396, 3456, 3516, 3580, 3696, 3756, 3816, 3876, 3936, 3996, 4056, 4120, 4211, 4271, 4331, 4391, 4451, 4511, 4571, 4631, 4691, 4751, 4816, 5064, 5124, 5184, 5244, 5304, 5364, 5475, 5535, 5625, 5774, 5834, 5894, 5954, 6014, 6074, 6134, 6194, 6254, 6314, 6541, 6601, 6661, 6721, 6781, 6841, 6901, 6961, 7021, 7081, 7141, 7201, 7261, 7321, 7381, 7441, 7501, 7561, 7621, 7690, 8019, 8079, 8160, 8286, 8346, 8406, 8466, 8526, 8586, 8646, 8706, 8766, 8826, 8886, 8946, 9006, 9066, 9126, 9186, 9246, 9306, 9366, 9426, 9486, 9546, 9606, 9666, 9726, 9786, 9830]
more_6560 = [42, 102, 162, 222, 282, 342, 402, 462, 522, 582, 642, 702, 762, 822, 882, 955, 1096, 1156, 1216, 1276, 1336, 1396, 1456, 1516, 1576, 1636, 1696, 1756, 1816, 1890, 1967, 2027, 2087, 2147, 2207, 2276, 2406, 2466, 2545, 2685, 2745, 2825, 2905, 2965, 3045, 3284, 3344, 3404, 3474, 3600, 3716, 3776, 3836, 3900, 4003, 4063, 4123, 4183, 4243, 4303, 4363, 4423, 4483, 4543, 4603, 4663, 4723, 4783, 4850, 4924, 4984, 5044, 5104, 5164, 5224, 5284, 5344, 5404, 5464, 5524, 5584, 5644, 5704, 5764, 5824, 5884, 5950, 6102, 6162, 6222, 6282, 6355, 6661, 6721, 6781, 6841, 6901, 6961, 7021, 7081, 7141, 7201, 7261, 7321, 7381, 7441, 7501, 7561, 7621, 7681, 7741, 7801, 7861, 7921, 7981, 8041, 8101, 8161, 8221, 8281, 8341, 8401, 8461, 8521, 8581, 8641, 8701, 8761, 8821, 8881, 8941, 9001, 9061, 9121, 9181, 9241, 9301, 9361, 9421, 9481, 9541, 9601, 9661, 9721, 9781, 9830]
more_6561 = [50, 110, 170, 230, 290, 350, 405, 601, 661, 721, 781, 841, 901, 961, 1021, 1081, 1141, 1201, 1261, 1321, 1381, 1441, 1501, 1561, 1621, 1681, 1741, 1805, 1919, 1979, 2039, 2099, 2159, 2219, 2290, 2398, 2458, 2518, 2578, 2638, 2698, 2758, 2818, 2878, 2938, 2998, 3058, 3118, 3178, 3232, 3356, 3416, 3476, 3536, 3596, 3656, 3716, 3776, 3836, 3896, 3956, 4016, 4076, 4136, 4196, 4256, 4316, 4376, 4450, 4594, 4654, 4714, 4774, 4850, 4956, 5016, 5076, 5136, 5196, 5256, 5316, 5376, 5436, 5496, 5556, 5616, 5676, 5736, 5796, 5856, 5916, 5976, 6036, 6096, 6156, 6216, 6276, 6360, 6729, 6789, 6849, 6909, 6969, 7029, 7089, 7149, 7209, 7269, 7329, 7389, 7449, 7509, 7569, 7629, 7689, 7749, 7809, 7869, 7929, 7989, 8049, 8109, 8169, 8229, 8289, 8349, 8409, 8469, 8529, 8589, 8649, 8709, 8769, 8829, 8910, 9049, 9109, 9169, 9229, 9289, 9349, 9409, 9469, 9529, 9589, 9649, 9709, 9769, 9825]
more_6551 = [42, 102, 162, 222, 282, 342, 402, 465, 569, 629, 689, 749, 809, 869, 929, 989, 1049, 1109, 1180, 1348, 1408, 1468, 1528, 1588, 1648, 1708, 1768, 1828, 1888, 1948, 2030, 2186, 2246, 2306, 2366, 2426, 2486, 2546, 2606, 2666, 2726, 2800, 2925, 2985, 3055, 3173, 3233, 3293, 3360, 3484, 3544, 3610, 3891, 3951, 4011, 4071, 4131, 4191, 4251, 4311, 4391, 4522, 4582, 4642, 4702, 4762, 4822, 4944, 5004, 5064, 5172, 5232, 5292, 5352, 5412, 5472, 5532, 5592, 5652, 5712, 5772, 5832, 5892, 5952, 6012, 6072, 6132, 6192, 6252, 6312, 6372, 6432, 6492, 6552, 6612, 6672, 6732, 6792, 6852, 6912, 6972, 7032, 7092, 7165, 7320, 7380, 7440, 7500, 7560, 7630, 7759, 7819, 7879, 7939, 7999, 8059, 8119, 8179, 8239, 8299, 8359, 8419, 8479, 8637, 8697, 8757, 8817, 8877, 8937, 8997, 9057, 9127, 9236, 9296, 9356, 9416, 9476, 9536, 9606, 9735, 9805]
more_6550 = [190, 252, 312, 370, 430, 490, 550, 610, 670, 740, 860, 920, 980, 1040, 1100, 1160, 1220, 1280, 1340, 1400, 1458, 1640, 1700, 1760, 1820, 1880, 1940, 2000, 2060, 2122, 2406, 2466, 2526, 2586, 2646, 2720, 2845, 2925, 3196, 3256, 3316, 3376, 3436, 3496, 3556, 3616, 3676, 3736, 3800, 3915, 3975, 4035, 4095, 4160, 4271, 4331, 4390, 4522, 4582, 4642, 4924, 4984, 5044, 5104, 5275, 5335, 5395, 5455, 5515, 5575, 5635, 5695, 5755, 5815, 5875, 5935, 5995, 6050, 6142, 6202, 6262, 6322, 6382, 6442, 6520, 6641, 6701, 6761, 6821, 6900, 7060, 7120, 7180, 7240, 7300, 7380, 7539, 7599, 7659, 7729, 7859, 7919, 7979, 8039, 8099, 8165, 8286, 8346, 8406, 8466, 8526, 8600, 8737, 8797, 8857, 8917, 9000, 9149, 9209, 9269, 9329, 9389, 9445, 9676, 9736, 9790]
more_6549 = [160, 220, 280, 340, 400, 460, 520, 580, 640, 700, 760, 820, 870, 970, 1030, 1090, 1150, 1210, 1408, 1468, 1528, 1590, 1650, 1710, 1770, 1830, 1890, 1950, 2010, 2070, 2130, 2190, 2250, 2310, 2370, 2430, 2490, 2550, 2610, 2670, 2730, 2790, 2850, 2910, 2970, 3030, 3090, 3150, 3210, 3270, 3330, 3395, 3645, 3705, 3825, 3885, 3945, 4005, 4075, 4205, 4265, 4325, 4385, 4455, 4565, 4625, 4685, 4745, 4805, 4865, 5005, 5065, 5125, 5185, 5245, 5305, 5365, 5425, 5485, 5545, 5605, 5665, 5725, 5785, 5845, 5905, 5965, 6025, 6085, 6150, 6265, 6325, 6385, 6445, 6505, 6565, 6620, 6740, 6800, 6860, 6920, 6980, 7040, 7100, 7160, 7220, 7280, 7340, 7400, 7460, 7520, 7580, 7640, 7700, 7760, 7820, 7880, 7950, 8060, 8120, 8180, 8240, 8320, 8598, 8658, 8718, 8778, 8838, 8898, 8958, 9018, 9078, 9138, 9198, 9258, 9320, 9416, 9476, 9536, 9596, 9656, 9716, 9776, 9826]

adc_levels = [6533, 6535, 6536, 6537, 6538, 6539, 6540, 6541, 6542, 6543, 6544, 6545, 6546, 6547, 6548,
              6549, 6550, 6551, 6552, 6553, 6554, 6555, 6556, 6557, 6558, 6559, 6560, 6561, 6562, 6563,
              6564, 6565, 6566, 6567, 6568, 6569, 6570, 6571, 6572, 6573, 6574, 6575, 6576, 6577, 6580, 6581,
              6549, 6550, 6551, 6552, 6553, 6554, 6555, 6556, 6557, 6558, 6559, 6560, 6561]
rows = [x_6533, x_6535, x_6536, x_6537, x_6538, x_6539, x_6540, x_6541, x_6542, x_6543, x_6544, x_6545, x_6546, x_6547, x_6548,
        x_6549, x_6550, x_6551, x_6552, x_6553, x_6554, x_6555, x_6556, x_6557, x_6558, x_6559, x_6560, x_6561, x_6562, x_6563,
        x_6564, x_6565, x_6566, x_6567, x_6568, x_6569, x_6570, x_6571, x_6572, x_6573, x_6574, x_6575, x_6576, x_6577, x_6580, x_6581,
        more_6549, more_6550, more_6551, more_6552, more_6553, more_6554, more_6555, more_6556, more_6557, more_6558, more_6559, more_6560, more_6561]

sample_x = np.concatenate([np.array(r, dtype=float) for r in rows])
sample_y = np.concatenate([np.full(len(r), lvl, dtype=float) for r, lvl in zip(rows, adc_levels)])

fig, ax = plt.subplots(figsize=(10, 10), dpi=100)
ax.plot(sample_x, sample_y, "k.", label="Samples\n$\\mu$ = 6555.21, $\\sigma$ = 6.14")
ax.set_title("Run 674, channel061, Pedestal")
ax.set_xlabel("Sample #")
ax.set_ylabel("ADC Counts")
ax.grid(True)
ax.legend(loc="upper right")
fig.tight_layout()
fig.subplots_adjust(top=0.965)
fig.savefig("out.png", dpi=100)
